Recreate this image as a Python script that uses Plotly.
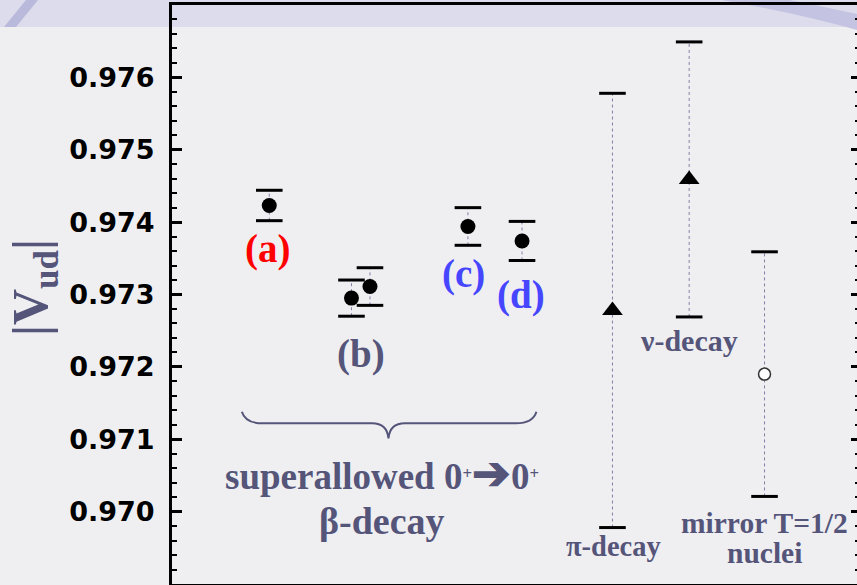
import plotly.graph_objects as go

# ---- data -------------------------------------------------------------
# superallowed 0+ -> 0+ beta-decay determinations of |V_ud|
sa_pos = [1.42, 2.62, 2.89, 4.32, 5.11]
sa_vud = [0.97423, 0.97295, 0.97311, 0.97394, 0.97374]
sa_err = [0.00021, 0.00025, 0.00026, 0.00026, 0.00027]

# other methods
pi_pos, pi_vud, pi_err = 6.43, 0.97278, 0.00300      # pion beta decay
nu_pos, nu_vud, nu_err = 7.55, 0.97459, 0.00190      # neutron decay
mir_pos, mir_vud, mir_err = 8.65, 0.97190, 0.00169   # mirror T=1/2 nuclei

y_ticks = [0.970, 0.971, 0.972, 0.973, 0.974, 0.975, 0.976]
y_range = [0.969, 0.977]
x_range = [0, 10]

# ---- styling ----------------------------------------------------------
BG = "#efeff2"
SLATE = "#55557a"
SERIF = "Liberation Serif"
W, H = 857, 585
L, R, T, B = 172, 0, 5, 1
PW, PH = W - L - R, H - T - B


def px(xp, yp):
    """page pixel -> paper coordinates (used for background ornaments)"""
    return (xp - L) / PW, 1 - (yp - T) / PH


all_pos = sa_pos + [pi_pos, nu_pos, mir_pos]
all_vud = sa_vud + [pi_vud, nu_vud, mir_vud]
all_err = sa_err + [pi_err, nu_err, mir_err]

fig = go.Figure()

# dotted error-bar stems
stem_x, stem_y = [], []
for xv, v, e in zip(all_pos, all_vud, all_err):
    stem_x += [xv, xv, None]
    stem_y += [v - e, v + e, None]
fig.add_trace(go.Scatter(x=stem_x, y=stem_y, mode="lines",
                         line=dict(color="#8080a8", width=1, dash="dot"),
                         hoverinfo="skip", showlegend=False))

# heavy error-bar caps
cap_x, cap_y = [], []
for xv, v, e in zip(all_pos, all_vud, all_err):
    cap_x += [xv, xv]
    cap_y += [v - e, v + e]
fig.add_trace(go.Scatter(x=cap_x, y=cap_y, mode="markers",
                         marker=dict(symbol="line-ew", size=19,
                                     line=dict(color="black", width=3)),
                         hoverinfo="skip", showlegend=False))

# central values
fig.add_trace(go.Scatter(x=sa_pos, y=sa_vud, mode="markers",
                         marker=dict(symbol="circle", size=15, color="black"),
                         showlegend=False))
fig.add_trace(go.Scatter(x=[pi_pos, nu_pos], y=[pi_vud, nu_vud], mode="markers",
                         marker=dict(symbol="triangle-up", size=18, color="black"),
                         showlegend=False))
fig.add_trace(go.Scatter(x=[mir_pos], y=[mir_vud], mode="markers",
                         marker=dict(symbol="circle", size=12, color="white",
                                     line=dict(color="#333333", width=1.5)),
                         showlegend=False))
# right-hand tick axis carrier
fig.add_trace(go.Scatter(x=[mir_pos], y=[mir_vud], yaxis="y2", mode="markers",
                         marker=dict(size=1, opacity=0), hoverinfo="skip",
                         showlegend=False))


def label(text, x, y, color, size, xshift=0, yshift=0):
    fig.add_annotation(text=text, x=x, y=y, xref="x", yref="y",
                       xanchor="center", yanchor="middle",
                       xshift=xshift, yshift=yshift, showarrow=False,
                       font=dict(family=SERIF, size=size, color=color,
                                 weight="bold"))


# point tags
label("(a)", sa_pos[0], sa_vud[0], "#ff0000", 39, -2, -44)
label("(b)", (sa_pos[1] + sa_pos[2]) / 2, (sa_vud[1] + sa_vud[2]) / 2,
      SLATE, 39, 0, -62)
label("(c)", sa_pos[3], sa_vud[3], "#4646ff", 39, -4, -48)
label("(d)", sa_pos[4], sa_vud[4], "#4646ff", 39, -1, -54)

# method captions below the lower caps
label("π-decay", pi_pos, pi_vud - pi_err, SLATE, 28.5, 1.5, -19)
label("ν-decay", nu_pos, nu_vud - nu_err, SLATE, 30, 0, -24)
label("mirror T=1/2", mir_pos, mir_vud - mir_err, SLATE, 29.5, 0, -27)
label("nuclei", mir_pos, mir_vud - mir_err, SLATE, 29.5, 0, -57)

# superallowed group: brace and caption
brace_l, brace_r, brace_tip = 1.02, 5.32, 3.16
y_end, y_flat, y_tip = 0.97138, 0.97122, 0.97101
brace = (f"M {brace_l},{y_end} Q {brace_l + 0.05},{y_flat} {brace_l + 0.3},{y_flat} "
         f"L {brace_tip - 0.24},{y_flat} Q {brace_tip - 0.02},{y_flat} {brace_tip},{y_tip} "
         f"Q {brace_tip + 0.02},{y_flat} {brace_tip + 0.24},{y_flat} "
         f"L {brace_r - 0.3},{y_flat} Q {brace_r - 0.05},{y_flat} {brace_r},{y_end}")
fig.add_shape(type="path", path=brace, xref="x", yref="y",
              line=dict(color=SLATE, width=2))
label("superallowed 0<span style='font-size:24px'><sup>+</sup></span>"
      "<span style='font-size:46px'>➔</span>"
      "0<span style='font-size:24px'><sup>+</sup></span>",
      3.06, 0.97053, SLATE, 37)
label("β-decay", 3.06, 0.96987, SLATE, 38)

# axis title
fig.add_annotation(text="|V<sub>ud</sub>|", x=px(34, 0)[0], y=px(0, 288)[1],
                   xref="paper", yref="paper", textangle=-90, showarrow=False,
                   xanchor="center", yanchor="middle",
                   font=dict(family=SERIF, size=50, color=SLATE, weight="bold"))

# slide ornaments behind the frame
x0, y0 = px(0, 0)
x1, y1 = px(W, 27)
fig.add_shape(type="rect", xref="paper", yref="paper", x0=x0, y0=y1, x1=x1, y1=y0,
              fillcolor="#dcdcec", line_width=0, layer="below")
p = [px(4, 27), px(16, 27), px(38, 0), px(26, 0)]
fig.add_shape(type="path", xref="paper", yref="paper", layer="below",
              path="M " + " L ".join(f"{a},{b}" for a, b in p) + " Z",
              fillcolor="#b9b9db", line_width=0)
a0, a1, a2, a3, a4 = px(722, 0), px(800, 14), px(857, 30), px(857, 14), px(790, 0)
fig.add_shape(type="path", xref="paper", yref="paper", layer="below",
              path=(f"M {a0[0]},{a0[1]} Q {a1[0]},{a1[1]} {a2[0]},{a2[1]} "
                    f"L {a3[0]},{a3[1]} Q {px(820, 6)[0]},{px(820, 6)[1]} {a4[0]},{a4[1]} Z"),
              fillcolor="#c4c4e2", line_width=0)

fig.update_layout(
    width=W, height=H,
    margin=dict(l=L, r=R, t=T, b=B, pad=0),
    paper_bgcolor=BG, plot_bgcolor="rgba(0,0,0,0)",
    showlegend=False,
    xaxis=dict(range=x_range, showline=True, mirror=True, linewidth=3,
               linecolor="black", showticklabels=False, ticks="",
               showgrid=False, zeroline=False),
    yaxis=dict(range=y_range, tickmode="array", tickvals=y_ticks,
               tickformat=".3f", ticks="inside", ticklen=10, tickwidth=3,
               tickcolor="black", showline=True, linewidth=3, linecolor="black",
               showgrid=False, zeroline=False, ticklabelstandoff=9,
               tickfont=dict(family="DejaVu Sans", size=27, color="black",
                             weight="bold"),
               minor=dict(tickmode="linear", tick0=0.969, dtick=0.0002,
                          ticks="inside", ticklen=5, tickwidth=2,
                          tickcolor="black", showgrid=False)),
    yaxis2=dict(range=y_range, overlaying="y", side="right", anchor="x",
                tickmode="array", tickvals=y_ticks, ticks="inside", ticklen=6,
                tickwidth=3, tickcolor="black", showline=False,
                showticklabels=False, showgrid=False, zeroline=False,
                minor=dict(tickmode="linear", tick0=0.969, dtick=0.0002,
                           ticks="inside", ticklen=2, tickwidth=2,
                           tickcolor="black", showgrid=False)),
)

fig.write_html("out.html")
